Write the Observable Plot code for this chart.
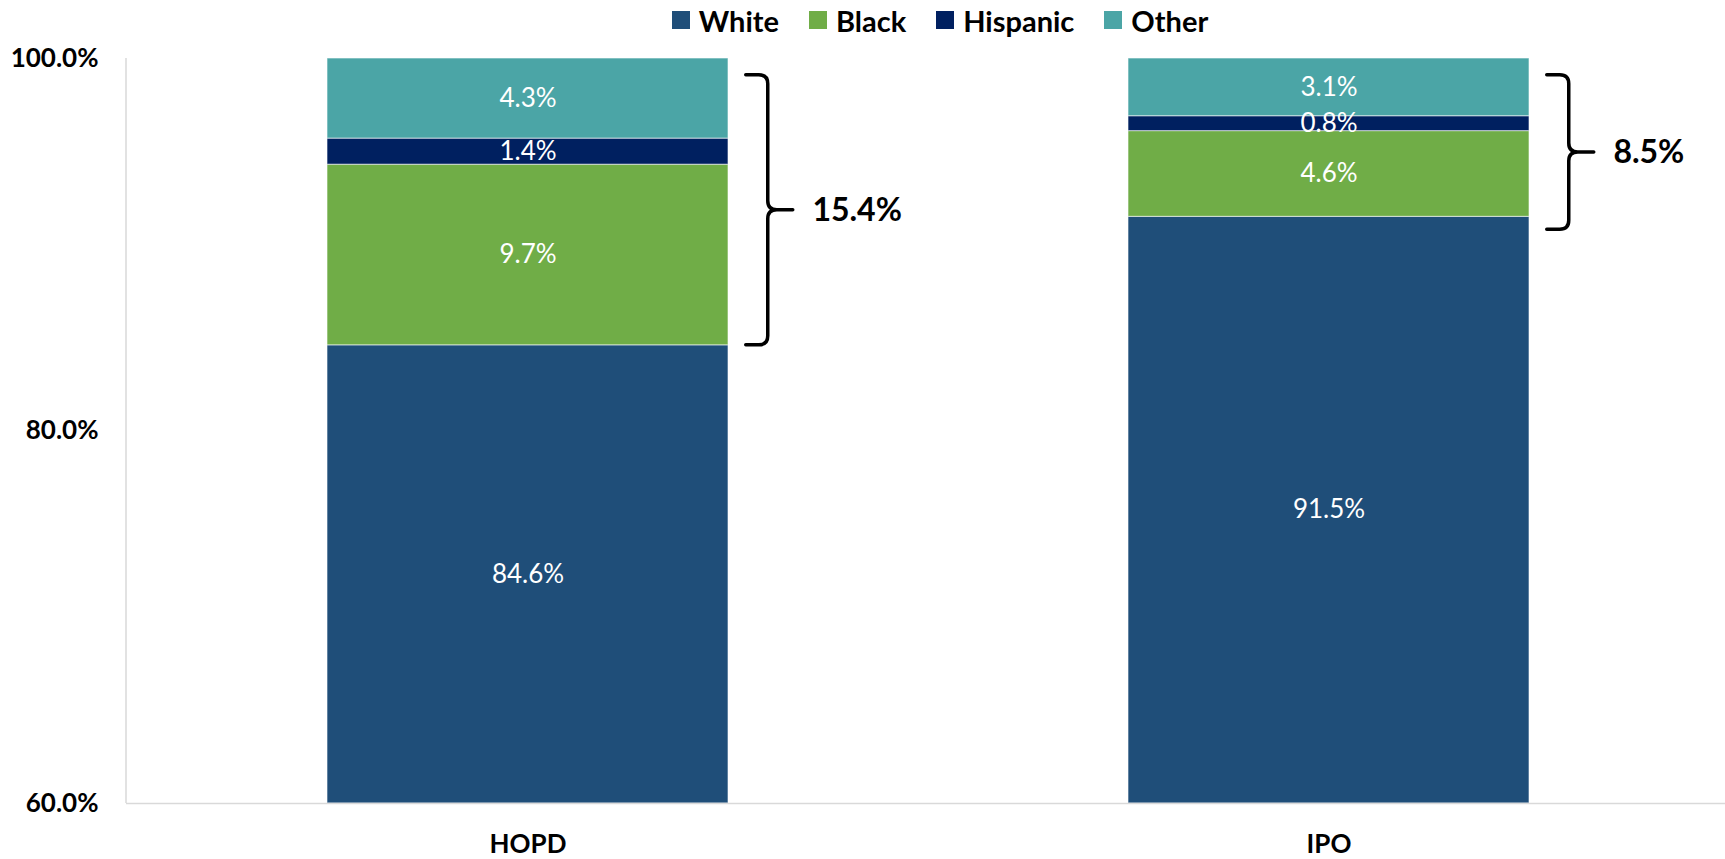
<!DOCTYPE html>
<html>
<head>
<meta charset="utf-8">
<script src="https://cdn.jsdelivr.net/npm/d3@7"></script>
<script src="https://cdn.jsdelivr.net/npm/@observablehq/plot@0.6"></script>
<style>
  html, body { margin: 0; padding: 0; background: #fff; overflow: hidden; }
  body { font-family: Lato, "Open Sans", sans-serif; }
  #legend { height: 40px; display: flex; justify-content: center; align-items: center; padding-left: 155px; box-sizing: border-box; width: 1725px; }
  .item { display: flex; align-items: center; margin: 0 15px; font-weight: bold; font-size: 29px; color: #000; }
  .sw { width: 18px; height: 18px; margin-right: 9px; }
</style>
</head>
<body>
<div id="legend"></div>
<div id="chart"></div>
<script>
// ---- data ----
const categories = ["HOPD", "IPO"];
const races = ["White", "Black", "Hispanic", "Other"];
const raceColors = ["#1F4E79", "#70AD47", "#002060", "#4BA5A6"];
const hopdValues = [84.6, 9.7, 1.4, 4.3];
const ipoValues = [91.5, 4.6, 0.8, 3.1];
const yTicks = [60, 80, 100];
const braceTop = [99.1, 99.1];
const braceBottom = [84.6, 90.8];
const braceLabels = ["15.4%", "8.5%"];

// ---- layout constants ----
const W = 1725, H = 819;
const mL = 126, mR = -4, mT = 18, mB = 56;
const padIn = 0.5, padOut = 0.25;
const yMin = 60, yMax = 100;
const step = (W - mL - mR) / (categories.length - padIn + 2 * padOut);
const bw = step * (1 - padIn);
const braceGap = 40, hook = 22, tip = 25, rad = 9, labelGap = 44;

// ---- build stacked table ----
const valuesByCat = {HOPD: hopdValues, IPO: ipoValues};
const table = [];
for (const cat of categories) {
  let acc = 0;
  valuesByCat[cat].forEach((v, i) => {
    const lo = acc, hi = acc + v;
    acc = hi;
    const y1 = Math.max(lo, yMin);
    table.push({cat, race: races[i], value: v, y1, y2: hi, mid: (y1 + hi) / 2});
  });
}
const braces = categories.map((cat, i) => ({
  cat, top: braceTop[i], bottom: braceBottom[i], mid: (braceTop[i] + braceBottom[i]) / 2, label: braceLabels[i]
}));

// ---- legend ----
const legend = d3.select("#legend");
races.forEach((r, i) => {
  const it = legend.append("div").attr("class", "item");
  it.append("div").attr("class", "sw").style("background", raceColors[i]);
  it.append("span").text(r);
});

// ---- custom marks: left axis line + braces ----
function decorations(index, scales) {
  const {x, y} = scales;
  const g = d3.create("svg:g");
  g.append("line")
    .attr("x1", mL).attr("x2", mL)
    .attr("y1", y(yMin)).attr("y2", y(yMax))
    .attr("stroke", "#d9d9d9").attr("stroke-width", 1.5);
  for (const b of braces) {
    const xv = x(b.cat) + bw + braceGap;
    const yt = y(b.top), yb = y(b.bottom), ym = y(b.mid);
    const p = d3.path();
    p.moveTo(xv - hook, yt);
    p.lineTo(xv - rad, yt);
    p.quadraticCurveTo(xv, yt, xv, yt + rad);
    p.lineTo(xv, ym - rad);
    p.quadraticCurveTo(xv, ym, xv + rad, ym);
    p.lineTo(xv + tip, ym);
    p.moveTo(xv + rad, ym);
    p.quadraticCurveTo(xv, ym, xv, ym + rad);
    p.lineTo(xv, yb - rad);
    p.quadraticCurveTo(xv, yb, xv - rad, yb);
    p.lineTo(xv - hook, yb);
    g.append("path").attr("d", p.toString())
      .attr("fill", "none").attr("stroke", "#000").attr("stroke-width", 3.5)
      .attr("stroke-linecap", "round");
  }
  return g.node();
}

const chart = Plot.plot({
  width: W,
  height: H,
  marginLeft: mL,
  marginRight: mR,
  marginTop: mT,
  marginBottom: mB,
  style: {fontFamily: "Lato, 'Open Sans', sans-serif", fontWeight: "bold", fontSize: "26px", color: "#000", background: "#fff", overflow: "visible"},
  x: {domain: categories, paddingInner: padIn, paddingOuter: padOut, label: null, tickSize: 0, tickPadding: 31},
  y: {domain: [yMin, yMax], ticks: yTicks, tickFormat: d => d.toFixed(1) + "%", label: null, tickSize: 0, tickPadding: 28},
  color: {domain: races, range: raceColors},
  marks: [
    Plot.barY(table, {x: "cat", y1: "y1", y2: "y2", fill: "race", stroke: "#ffffff", strokeWidth: 1, strokeOpacity: 0.6}),
    Plot.text(table, {x: "cat", y: "mid", text: d => d.value.toFixed(1) + "%", fill: "#ffffff", fontWeight: "normal", fontSize: 26}),
    Plot.ruleY([yMin], {stroke: "#d9d9d9", strokeWidth: 1.5}),
    decorations,
    Plot.text(braces, {x: "cat", y: "mid", text: "label", textAnchor: "start", dx: bw / 2 + braceGap + labelGap, fontSize: 32, fontWeight: "bold", fill: "#000"})
  ]
});
document.getElementById("chart").appendChild(chart);
</script>
</body>
</html>
